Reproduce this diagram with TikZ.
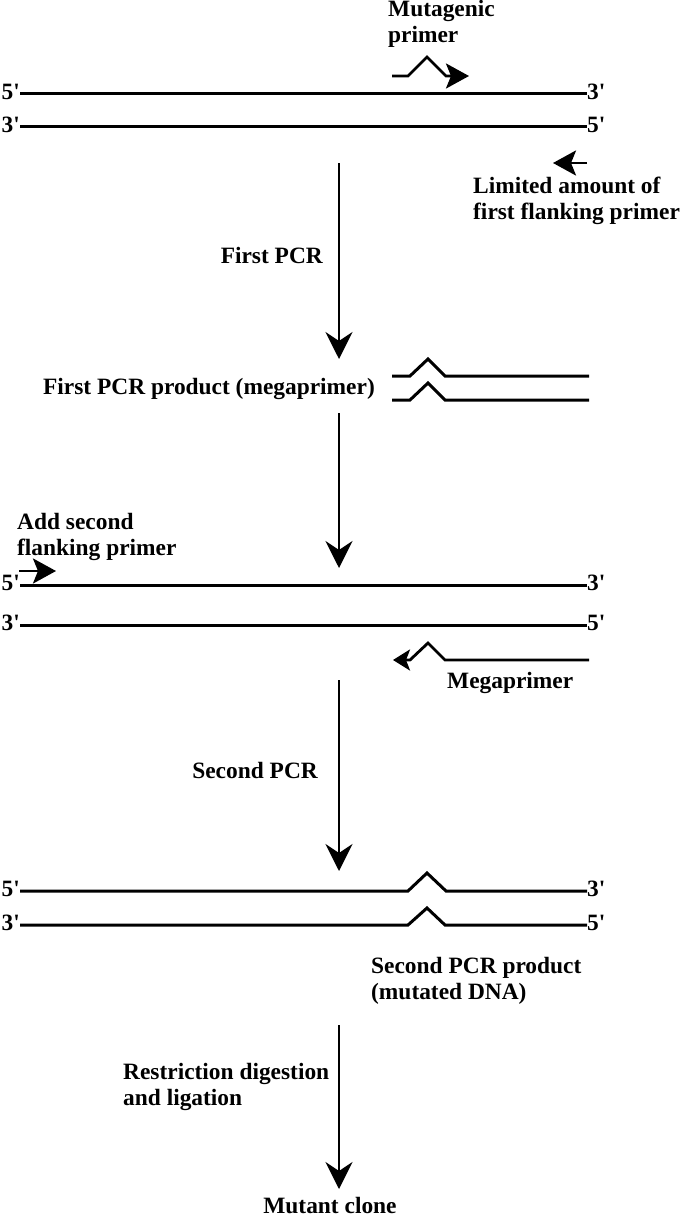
\documentclass[tikz,border=0pt]{standalone}
\usepackage{fontspec}
\setmainfont{Liberation Serif}[Ligatures=TeXOff]
\usetikzlibrary{arrows.meta}
\begin{document}
\begin{tikzpicture}[x=1pt,y=-1pt,
  txt/.style={font=\bfseries\fontsize{23.4}{26}\selectfont, inner sep=0pt},
  ml/.style={txt, align=left, anchor=west},
  strand/.style={line width=3pt},
  flow/.style={line width=2.8pt, -{Stealth[length=27pt,width=27pt,inset=9pt]}},
  primer/.style={line width=2.8pt, -{Stealth[length=23pt,width=25pt,inset=5pt]}},
]
\useasboundingbox (0,0) rectangle (685,1220);

% ---------- template ----------
\node[ml] (mutlab) at (388,24) {Mutagenic\\primer};
\draw[primer] (392,76) -- (408,76) -- (427,57) -- (446,76) -- (469,76);

\node[txt, anchor=east] (l1) at (20,92) {5'};
\node[txt, anchor=west] (r1) at (587,92) {3'};
\draw[strand] ([yshift=-2pt]l1.east) -- ([yshift=-2pt]r1.west);
\node[txt, anchor=east] (l2) at (20,125) {3'};
\node[txt, anchor=west] (r2) at (587,125) {5'};
\draw[strand] ([yshift=-2pt]l2.east) -- ([yshift=-2pt]r2.west);

\coordinate (fp1s) at (587,163);
\coordinate (fp1e) at (553,163);
\draw[primer] (fp1s) -- (fp1e);
\node[ml] (limlab) at (473,201) {Limited amount of\\first flanking primer};

% ---------- first PCR ----------
\coordinate (a1s) at (339,163);
\coordinate (a1e) at (339,359);
\draw[flow] (a1s) -- (a1e);
\node[txt, anchor=base east] (pcr1) at (323,263) {First PCR};

\node[txt, anchor=base east] (prod1) at (375,394) {First PCR product (megaprimer)};
\draw[strand] (392,376) -- (410,376) -- (428,359) -- (445,376) -- (589,376);
\draw[strand] (392,400) -- (410,400) -- (428,383) -- (445,400) -- (589,400);

% ---------- second template ----------
\coordinate (a2s) at (339,413);
\coordinate (a2e) at (339,568);
\draw[flow] (a2s) -- (a2e);

\node[ml] (addlab) at (17,537) {Add second\\flanking primer};
\coordinate (fp2s) at (19,571);
\coordinate (fp2e) at (56,571);
\draw[primer] (fp2s) -- (fp2e);

\node[txt, anchor=east] (l3) at (20,583) {5'};
\node[txt, anchor=west] (r3) at (587,583) {3'};
\draw[strand] ([yshift=-2pt]l3.east) -- ([yshift=-2pt]r3.west);
\node[txt, anchor=east] (l4) at (20,623) {3'};
\node[txt, anchor=west] (r4) at (587,623) {5'};
\draw[strand] ([yshift=-2pt]l4.east) -- ([yshift=-2pt]r4.west);

\draw[line width=2.8pt, -{Stealth[length=17pt,width=21pt,inset=4pt]}]
  (589,660) -- (445,660) -- (428,643) -- (410,660) -- (393,660);
\node[txt, anchor=base west] (megalab) at (447,688) {Megaprimer};

% ---------- second PCR ----------
\coordinate (a3s) at (339,680);
\coordinate (a3e) at (339,871);
\draw[flow] (a3s) -- (a3e);
\node[txt, anchor=base east] (pcr2) at (318,778) {Second PCR};

\node[txt, anchor=east] (l5) at (20,889) {5'};
\node[txt, anchor=west] (r5) at (587,889) {3'};
\draw[strand] ([yshift=-2pt]l5.east) -- (408,891) -- (427,873) -- (446,891) -- ([yshift=-2pt]r5.west);
\node[txt, anchor=east] (l6) at (20,923) {3'};
\node[txt, anchor=west] (r6) at (587,923) {5'};
\draw[strand] ([yshift=-2pt]l6.east) -- (408,925) -- (427,908) -- (445,925) -- ([yshift=-2pt]r6.west);

\node[ml] (prod2) at (371,981) {Second PCR product\\(mutated DNA)};

% ---------- cloning ----------
\coordinate (a4s) at (339,1025);
\coordinate (a4e) at (339,1189);
\draw[flow] (a4s) -- (a4e);
\node[ml] (restr) at (123,1087) {Restriction digestion\\and ligation};
\node[txt, anchor=base] (clone) at (330,1213) {Mutant clone};
\end{tikzpicture}
\end{document}
